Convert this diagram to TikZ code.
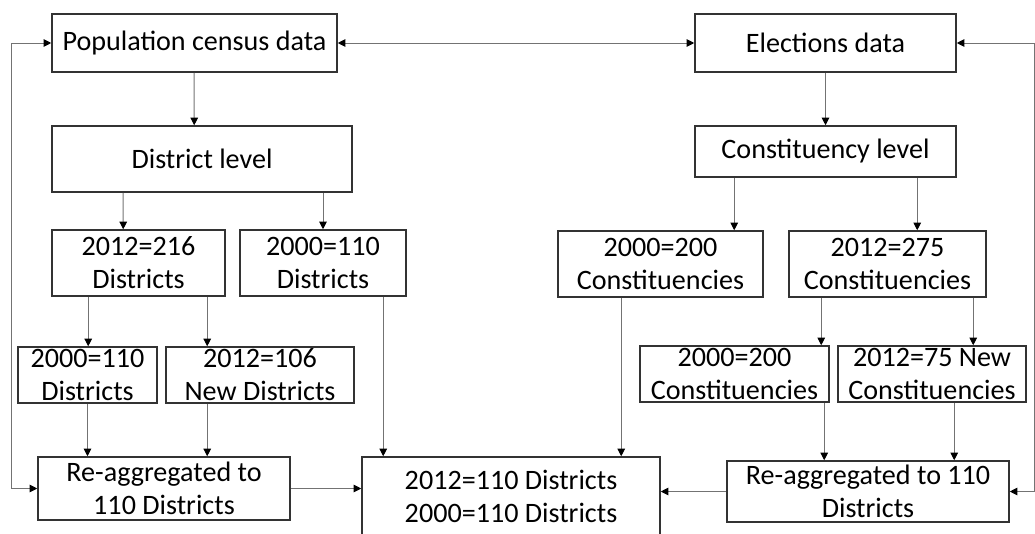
\documentclass[tikz,border=0pt]{standalone}
\usepackage{fontspec}
\setmainfont{Carlito}
\usetikzlibrary{arrows.meta}
\begin{document}
\begin{tikzpicture}[font=\fontsize{20}{23.5}\selectfont,
		box/.style={draw=black!80,line width=1.1pt,align=center,inner sep=0pt},
		link/.style={draw=black!55,line width=0.7pt},
		>={Triangle[length=1.9mm,width=1.9mm,color=black]}]
		\useasboundingbox (0,0) rectangle (25.875,13.325);
		\node[box,minimum width=7.125cm,minimum height=1.45cm] (1) at (4.8625,12.25) {Population census data};
		\node[box,minimum width=6.525cm,minimum height=1.45cm] (2) at (20.6375,12.25) {Elections data};
		\node[box,minimum width=7.5cm,minimum height=1.65cm] (3) at (5.05,9.35) {District level};
		\node[box,minimum width=6.525cm,minimum height=1.275cm] (4) at (20.6375,9.5375) {Constituency level};
		\node[box,minimum width=4.325cm,minimum height=1.65cm] (5) at (3.4625,6.75) {2012=216\\Districts};
		\node[box,minimum width=4.15cm,minimum height=1.65cm] (6) at (8.075,6.75) {2000=110\\Districts};
		\node[box,minimum width=5.125cm,minimum height=1.65cm] (7) at (16.5125,6.725) {2000=200\\Constituencies};
		\node[box,minimum width=4.925cm,minimum height=1.65cm] (8) at (22.1875,6.725) {2012=275\\Constituencies};
		\node[box,minimum width=3.475cm,minimum height=1.4cm] (9) at (2.1875,3.95) {2000=110\\Districts};
		\node[box,minimum width=4.7cm,minimum height=1.4cm] (10) at (6.5,3.95) {2012=106\\New Districts};
		\node[box,minimum width=4.725cm,minimum height=1.4cm] (11) at (18.3625,3.975) {2000=200\\Constituencies};
		\node[box,minimum width=4.7cm,minimum height=1.4cm] (12) at (23.3,3.975) {2012=75 New\\Constituencies};
		\node[box,minimum width=6.3cm,minimum height=1.575cm] (13) at (4.1,1.1125) {Re-aggregated to\\110 Districts};
		\node[box,minimum width=7.45cm,minimum height=1.975cm] (14) at (12.775,0.9125) {2012=110 Districts\\2000=110 Districts};
		\node[box,minimum width=7.05cm,minimum height=1.525cm] (15) at (21.7,1.0375) {Re-aggregated to 110\\Districts};
		% top row and loops
		\draw[link,<->] (1) -- (2);
		\draw[link,<->] (1.west) -- ++(-1,0) |- (13.west);
		\draw[link,<->] (2.east) -- ++(1.95,0) |- (15.east);
		\draw[link,->] ([xshift=3.575cm]1.south west) -- ([xshift=3.575cm]3.north west);
		\draw[link,->] (2) -- (4);
		% district side
		\draw[link,->] ([xshift=1.8cm]3.south west) -- ([xshift=1.8cm]5.north west);
		\draw[link,->] (3.south -| 6.north) -- (6.north);
		\draw[link,->] ([xshift=0.925cm]5.south west) -- ([xshift=0.925cm]5.south west |- 9.north);
		\draw[link,->] ([xshift=3.9cm]5.south west) -- ([xshift=3.9cm]5.south west |- 10.north);
		\draw[link,->] ([xshift=3.6cm]6.south west) -- ([xshift=3.6cm]6.south west |- 14.north);
		\draw[link,->] (9) -- (9 |- 13.north);
		\draw[link,->] ([xshift=1.05cm]10.south west) -- ([xshift=1.05cm]10.south west |- 13.north);
		\draw[link,->] (13) -- (13 -| 14.west);
		% constituency side
		\draw[link,->] ([xshift=1cm]4.south west) -- ([xshift=1cm]4.south west |- 7.north);
		\draw[link,->] ([xshift=5.575cm]4.south west) -- ([xshift=5.575cm]4.south west |- 8.north);
		\draw[link,->] ([xshift=1.6cm]7.south west) -- ([xshift=1.6cm]7.south west |- 14.north);
		\draw[link,->] ([xshift=0.825cm]8.south west) -- ([xshift=0.825cm]8.south west |- 11.north);
		\draw[link,->] ([xshift=4.625cm]8.south west) -- ([xshift=4.625cm]8.south west |- 12.north);
		\draw[link,->] ([xshift=4.625cm]11.south west) -- ([xshift=4.625cm]11.south west |- 15.north);
		\draw[link,->] ([xshift=2.925cm]12.south west) -- ([xshift=2.925cm]12.south west |- 15.north);
		\draw[link,->] (15) -- (15 -| 14.east);
	\end{tikzpicture}
\end{document}
